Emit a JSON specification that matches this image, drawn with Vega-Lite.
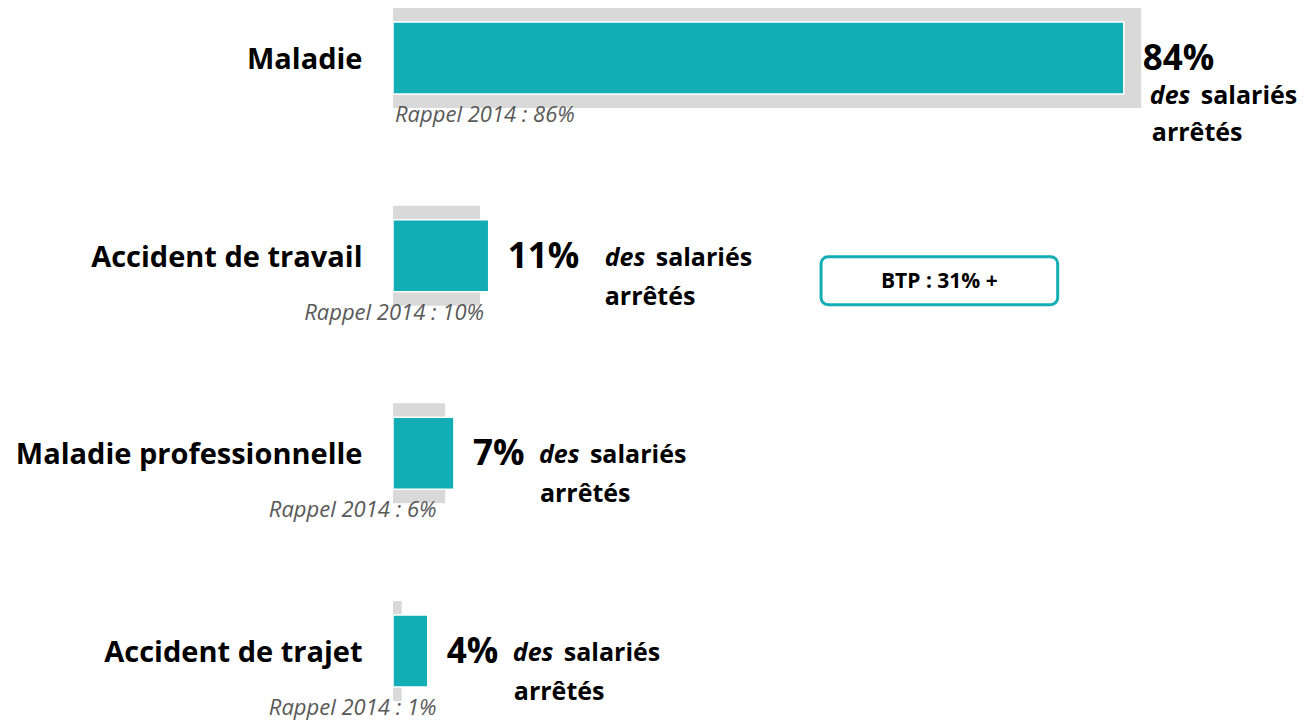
{
  "$schema": "https://vega.github.io/schema/vega-lite/v6.json",
  "autosize": {"type": "none"},
  "width": 870,
  "height": 693,
  "padding": {"left": 393, "top": 8, "right": 47, "bottom": 20},
  "background": "white",
  "config": {"view": {"stroke": null}, "font": "Open Sans", "text": {"font": "Open Sans"}},
  "datasets": {
    "bars": [
      {"cat": "Maladie", "v2016": 84, "v2014": 86, "pct": "84%", "rappel": "Rappel 2014 : 86%"},
      {"cat": "Accident de travail", "v2016": 11, "v2014": 10, "pct": "11%", "rappel": "Rappel 2014 : 10%"},
      {"cat": "Maladie professionnelle", "v2016": 7, "v2014": 6, "pct": "7%", "rappel": "Rappel 2014 : 6%"},
      {"cat": "Accident de trajet", "v2016": 4, "v2014": 1, "pct": "4%", "rappel": "Rappel 2014 : 1%"}
    ],
    "notes": [
      {"cat": "Accident de travail", "note": "BTP : 31% +"}
    ]
  },
  "data": {"name": "bars"},
  "encoding": {
    "y": {
      "field": "cat", "type": "nominal",
      "scale": {"domain": ["Maladie", "Accident de travail", "Maladie professionnelle", "Accident de trajet"], "paddingInner": 0.494, "paddingOuter": 0},
      "axis": {"title": null, "domain": false, "ticks": false, "tickSize": 0, "labelPadding": 31, "labelFontSize": 29, "labelFontWeight": "bold", "labelColor": "#000000", "labelFont": "Open Sans", "labelLimit": 500, "labelOffset": 2}
    }
  },
  "layer": [
    {
      "mark": {"type": "bar", "color": "#D9D9D9"},
      "encoding": {"x": {"field": "v2014", "type": "quantitative", "scale": {"domain": [0, 100], "nice": false, "zero": true}, "axis": null}}
    },
    {
      "mark": {"type": "bar", "fill": "#13AEB5", "stroke": "white", "strokeWidth": 1.5, "height": {"band": 0.72}},
      "encoding": {"x": {"field": "v2016", "type": "quantitative"}}
    },
    {
      "mark": {"type": "text", "align": "left", "baseline": "middle", "dx": 19, "dy": 1, "fontSize": 35, "fontWeight": "bold", "color": "#000000"},
      "encoding": {"x": {"field": "v2016", "type": "quantitative"}, "text": {"field": "pct"}}
    },
    {
      "transform": [{"filter": "datum.cat === 'Maladie'"}],
      "layer": [
        {"mark": {"type": "text", "align": "left", "baseline": "middle", "dx": 26, "dy": 38, "fontSize": 25, "fontWeight": "bold", "fontStyle": "italic", "color": "#000000"},
         "encoding": {"x": {"field": "v2016", "type": "quantitative"}, "text": {"value": "des"}}},
        {"mark": {"type": "text", "align": "left", "baseline": "middle", "dx": 77, "dy": 38, "fontSize": 25, "fontWeight": "bold", "color": "#000000"},
         "encoding": {"x": {"field": "v2016", "type": "quantitative"}, "text": {"value": "salariés"}}},
        {"mark": {"type": "text", "align": "left", "baseline": "middle", "dx": 28, "dy": 75, "fontSize": 25, "fontWeight": "bold", "color": "#000000"},
         "encoding": {"x": {"field": "v2016", "type": "quantitative"}, "text": {"value": "arrêtés"}}},
        {"mark": {"type": "text", "align": "left", "baseline": "middle", "dx": 2, "dy": 57, "fontSize": 22, "fontStyle": "italic", "color": "#595959"},
         "encoding": {"x": {"datum": 0}, "text": {"field": "rappel"}}}
      ]
    },
    {
      "transform": [{"filter": "datum.cat === 'Accident de travail'"}],
      "layer": [
        {"mark": {"type": "text", "align": "left", "baseline": "middle", "dx": 116, "dy": 2, "fontSize": 25, "fontWeight": "bold", "fontStyle": "italic", "color": "#000000"},
         "encoding": {"x": {"field": "v2016", "type": "quantitative"}, "text": {"value": "des"}}},
        {"mark": {"type": "text", "align": "left", "baseline": "middle", "dx": 167, "dy": 2, "fontSize": 25, "fontWeight": "bold", "color": "#000000"},
         "encoding": {"x": {"field": "v2016", "type": "quantitative"}, "text": {"value": "salariés"}}},
        {"mark": {"type": "text", "align": "left", "baseline": "middle", "dx": 116, "dy": 41, "fontSize": 25, "fontWeight": "bold", "color": "#000000"},
         "encoding": {"x": {"field": "v2016", "type": "quantitative"}, "text": {"value": "arrêtés"}}},
        {"mark": {"type": "text", "align": "right", "baseline": "middle", "dx": 4, "dy": 57, "fontSize": 22, "fontStyle": "italic", "color": "#595959"},
         "encoding": {"x": {"field": "v2014", "type": "quantitative"}, "text": {"field": "rappel"}}}
      ]
    },
    {
      "transform": [{"filter": "datum.cat === 'Maladie professionnelle' || datum.cat === 'Accident de trajet'"}],
      "layer": [
        {"mark": {"type": "text", "align": "left", "baseline": "middle", "dx": 85, "dy": 2, "fontSize": 25, "fontWeight": "bold", "fontStyle": "italic", "color": "#000000"},
         "encoding": {"x": {"field": "v2016", "type": "quantitative"}, "text": {"value": "des"}}},
        {"mark": {"type": "text", "align": "left", "baseline": "middle", "dx": 136, "dy": 2, "fontSize": 25, "fontWeight": "bold", "color": "#000000"},
         "encoding": {"x": {"field": "v2016", "type": "quantitative"}, "text": {"value": "salariés"}}},
        {"mark": {"type": "text", "align": "left", "baseline": "middle", "dx": 86, "dy": 41, "fontSize": 25, "fontWeight": "bold", "color": "#000000"},
         "encoding": {"x": {"field": "v2016", "type": "quantitative"}, "text": {"value": "arrêtés"}}},
        {"mark": {"type": "text", "align": "right", "baseline": "middle", "dx": 0, "dy": 57, "fontSize": 22, "fontStyle": "italic", "color": "#595959"},
         "encoding": {"x": {"datum": 5}, "text": {"field": "rappel"}}}
      ]
    },
    {
      "data": {"name": "notes"},
      "layer": [
        {"mark": {"type": "bar", "fill": "white", "stroke": "#13AEB5", "strokeWidth": 3, "cornerRadius": 7, "height": {"band": 0.48}, "yOffset": 25},
         "encoding": {"x": {"datum": 49.2}, "x2": {"datum": 76.4}}},
        {"mark": {"type": "text", "align": "center", "baseline": "middle", "dy": 26, "fontSize": 21, "fontWeight": "bold", "color": "#000000"},
         "encoding": {"x": {"datum": 62.8}, "text": {"field": "note"}}}
      ]
    }
  ]
}
